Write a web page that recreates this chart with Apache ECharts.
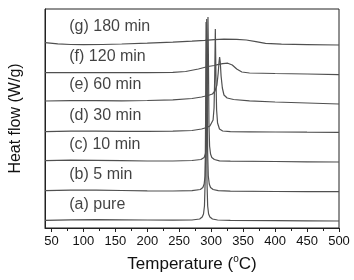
<!DOCTYPE html>
<html>
<head>
<meta charset="utf-8">
<script src="https://cdn.jsdelivr.net/npm/echarts@6/dist/echarts.min.js"></script>
<style>
  html, body { margin: 0; padding: 0; background: #fff; }
  #main { width: 354px; height: 280px; }
</style>
</head>
<body>
<div id="main"></div>
<script>
(function () {
    // DSC curves, heat flow in arbitrary (offset) units
    var curveNames = ['(a) pure', '(b) 5 min', '(c) 10 min', '(d) 30 min', '(e) 60 min', '(f) 120 min', '(g) 180 min'];

    var tempA = [40, 80, 120, 160, 200, 240, 270, 282, 286, 288, 289.5, 290.5, 291.3, 292, 292.7, 293.5, 294.5, 296, 298, 302, 310, 330, 400, 450, 500];
    var flowA = [7.6, 8.2, 8.3, 8.2, 8.0, 7.8, 8.0, 9.0, 11, 14, 22, 45, 110, 206, 110, 45, 22, 14, 11, 9, 8, 7.6, 7.4, 7.2, 7.0];

    var tempB = [40, 80, 120, 160, 200, 240, 270, 283, 287, 289, 290.5, 291.5, 292.3, 293, 293.7, 294.5, 295.5, 297, 299, 303, 311, 330, 400, 450, 500];
    var flowB = [37.3, 37.8, 37.8, 37.5, 37.2, 37.0, 37.3, 38.5, 40.5, 44, 52, 75, 140, 209, 140, 75, 52, 44, 40.5, 38.5, 37.3, 36.8, 36.5, 36.4, 36.3];

    var tempC = [40, 80, 120, 160, 200, 240, 270, 284, 289, 291, 292.5, 293.5, 294.3, 295, 295.7, 296.5, 297.5, 299, 301, 305, 313, 330, 400, 450, 500];
    var flowC = [67.3, 67.8, 67.6, 67.3, 67.0, 67.0, 67.5, 68.5, 70.5, 74, 82, 105, 170, 211, 170, 105, 82, 74, 70.5, 68.5, 67.2, 66.8, 66.5, 66.2, 66.0];

    var tempD = [40, 80, 120, 160, 200, 240, 270, 285, 293, 298, 301, 303, 304.5, 305.5, 306.5, 307.5, 308.5, 310, 313, 318, 330, 360, 400, 450, 500];
    var flowD = [96.3, 96.8, 96.8, 96.6, 96.6, 96.8, 97.5, 99, 100.5, 102, 104, 108, 120, 150, 199, 150, 118, 105, 99, 97, 96.3, 96.2, 96.0, 95.8, 95.7];

    var tempE = [40, 80, 120, 160, 200, 240, 270, 285, 295, 302, 306, 309, 311, 312.3, 313.2, 314.2, 315.5, 317.5, 320, 325, 335, 360, 400, 450, 500];
    var flowE = [127, 127.3, 127.3, 127.2, 127.5, 128.2, 129.5, 131, 132.5, 134, 137, 143, 155, 166, 171, 166, 152, 140, 133, 130, 128.5, 127.2, 126, 125, 124];

    var tempF = [40, 80, 120, 160, 200, 240, 260, 280, 295, 305, 310, 318, 326, 333, 340, 348, 360, 400, 450, 500];
    var flowF = [155.3, 155.5, 155.4, 155.4, 155.4, 155.6, 156.5, 159, 161.5, 162.5, 163.3, 164.3, 164.8, 163, 159, 156, 155, 154.5, 154, 153.3];

    var tempG = [40, 60, 80, 100, 130, 160, 200, 240, 270, 290, 305, 320, 340, 355, 370, 385, 410, 450, 500];
    var flowG = [185.3, 184.2, 183.5, 183.3, 183.5, 184, 184.8, 185.8, 186.8, 187.6, 188.4, 188.8, 188.6, 188, 186.3, 184.6, 183.8, 183.4, 183];

    var majorTicks = [50, 100, 150, 200, 250, 300, 350, 400, 450, 500];
    var minorTicks = [75, 125, 175, 225, 275, 325, 375, 425, 475];

    var temps = [tempA, tempB, tempC, tempD, tempE, tempF, tempG];
    var flows = [flowA, flowB, flowC, flowD, flowE, flowF, flowG];

    var font = '"Liberation Sans", Arial, sans-serif';
    var ink = '#111';

    var series = [];
    var labelData = [];
    for (var i = 0; i < temps.length; i++) {
        var pts = [];
        for (var j = 0; j < temps[i].length; j++) {
            pts.push([temps[i][j], flows[i][j]]);
        }
        series.push({
            name: curveNames[i],
            type: 'line',
            data: pts,
            showSymbol: false,
            lineStyle: { color: '#505050', width: 1.2 },
            z: 2
        });
        // label sits a little above the curve's left baseline
        labelData.push({ value: [78, flows[i][0] + 16], name: curveNames[i] });
    }
    series.push({
        type: 'scatter',
        data: labelData,
        symbolSize: 0,
        label: {
            show: true,
            position: 'right',
            distance: 0,
            formatter: '{b}',
            fontFamily: font,
            fontSize: 16,
            color: ink
        },
        z: 3
    });

    var myChart = echarts.init(document.getElementById('main'));
    myChart.setOption({
        animation: false,
        backgroundColor: '#fff',
        grid: { left: 42, right: 15, top: 9, bottom: 52, show: true, borderColor: '#222', borderWidth: 1 },
        xAxis: [{
            type: 'value',
            min: 40,
            max: 500,
            name: 'Temperature ({sup|o}C)',
            nameLocation: 'middle',
            nameGap: 26,
            nameTextStyle: {
                fontFamily: font, fontSize: 17, color: ink,
                rich: { sup: { fontFamily: font, fontSize: 10, color: ink, padding: [0, 0, 11, 0] } }
            },
            axisLine: { lineStyle: { color: '#222', width: 1 } },
            axisTick: { customValues: majorTicks, length: 4, lineStyle: { color: '#222' } },
            axisLabel: { customValues: majorTicks, margin: 7, fontFamily: font, fontSize: 13, color: ink },
            splitLine: { show: false }
        }, {
            type: 'value',
            min: 40,
            max: 500,
            position: 'bottom',
            axisLine: { show: false },
            axisTick: { customValues: minorTicks, length: 3, lineStyle: { color: '#222' } },
            axisLabel: { show: false },
            splitLine: { show: false }
        }],
        yAxis: {
            type: 'value',
            min: 0,
            max: 219,
            name: 'Heat flow (W/g)',
            nameLocation: 'middle',
            nameGap: 21,
            nameRotate: 90,
            nameTextStyle: { fontFamily: font, fontSize: 16, color: ink },
            axisLine: { show: true, lineStyle: { color: '#222', width: 1 } },
            axisTick: { show: false },
            axisLabel: { show: false },
            splitLine: { show: false }
        },
        series: series
    });
})();
</script>
</body>
</html>
